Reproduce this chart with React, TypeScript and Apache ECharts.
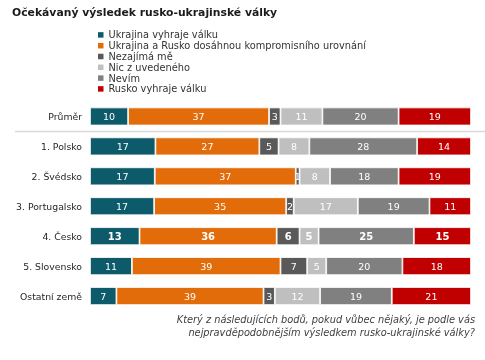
import React, { useEffect, useRef } from "react";
import * as echarts from "echarts";

const categories = ["Průměr", "1. Polsko", "2. Švédsko", "3. Portugalsko", "4. Česko", "5. Slovensko", "Ostatní země"];
const seriesNames = [
  "Ukrajina vyhraje válku",
  "Ukrajina a Rusko dosáhnou kompromisního urovnání",
  "Nezajímá mě",
  "Nic z uvedeného",
  "Nevím",
  "Rusko vyhraje válku",
];
const ukrajinaVyhraje = [10, 17, 17, 17, 13, 11, 7];
const kompromis = [37, 27, 37, 35, 36, 39, 39];
const nezajima = [3, 5, 1, 2, 6, 7, 3];
const nicZUvedeneho = [11, 8, 8, 17, 5, 5, 12];
const nevim = [20, 28, 18, 19, 25, 20, 19];
const ruskoVyhraje = [19, 14, 19, 11, 15, 18, 21];
const colors = ["#0d5a6a", "#e36c0a", "#595959", "#bfbfbf", "#808080", "#c00000"];
const boldRow = "4. Česko";

const FONT = "DejaVu Sans";

export default function App() {
  const ref = useRef<HTMLDivElement>(null);
  useEffect(() => {
    if (!ref.current) return;
    const chart = echarts.init(ref.current, undefined, { renderer: "svg" });
    const all = [ukrajinaVyhraje, kompromis, nezajima, nicZUvedeneho, nevim, ruskoVyhraje];
    const totals = categories.map((_, i) => all.reduce((s, arr) => s + arr[i], 0));
    const series = all.map((arr, si) => ({
      name: seriesNames[si],
      type: "bar",
      stack: "total",
      barWidth: 18,
      itemStyle: { color: colors[si], borderColor: "#ffffff", borderWidth: 0.8 },
      label: {
        show: true,
        position: "inside",
        color: "#ffffff",
        fontFamily: FONT,
        fontSize: 9.5,
        formatter: (p: any) => String(p.data.raw),
      },
      data: arr.map((v, i) => ({
        value: (v / totals[i]) * 100,
        raw: v,
        label: categories[i] === boldRow ? { fontWeight: "bold", fontSize: 10 } : undefined,
      })),
    }));
    chart.setOption({
      animation: false,
      title: {
        text: "Očekávaný výsledek rusko-ukrajinské války",
        left: 7,
        top: 1.5,
        textStyle: { fontFamily: FONT, fontSize: 10.8, fontWeight: "bold", color: "#1a1a1a" },
      },
      legend: {
        orient: "vertical",
        left: 98,
        top: 29.5,
        padding: 0,
        itemWidth: 5.5,
        itemHeight: 5.5,
        itemGap: 0,
        icon: "rect",
        itemStyle: { borderWidth: 0 },
        textStyle: { fontFamily: FONT, fontSize: 9.8, color: "#333", lineHeight: 10.8 },
        data: seriesNames,
      },
      grid: { left: 90, right: 14, top: 101.5, bottom: 49, containLabel: false },
      xAxis: { type: "value", min: 0, max: 100, show: false },
      yAxis: {
        type: "category",
        data: categories,
        inverse: true,
        axisLine: { show: false },
        axisTick: { show: false },
        axisLabel: { fontFamily: FONT, fontSize: 9.3, color: "#262626", margin: 8 },
      },
      graphic: [
        {
          type: "line",
          shape: { x1: 15, y1: 131.5, x2: 485, y2: 131.5 },
          style: { stroke: "#d9d9d9", lineWidth: 1.5 },
        },
        {
          type: "text",
          x: 475,
          y: 313,
          style: {
            text: "Který z následujících bodů, pokud vůbec nějaký, je podle vás\nnejpravděpodobnějším výsledkem rusko-ukrajinské války?",
            textAlign: "right",
            fontFamily: FONT,
            fontStyle: "italic",
            fontSize: 9.8,
            lineHeight: 13,
            fill: "#404040",
          },
        },
      ],
      series,
    });
    return () => chart.dispose();
  }, []);
  return <div ref={ref} style={{ position: "fixed", left: 0, top: 0, width: 485, height: 360 }} />;
}
